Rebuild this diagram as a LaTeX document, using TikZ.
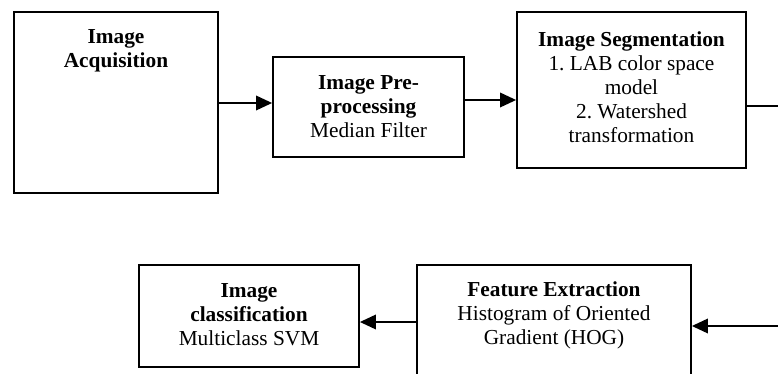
\documentclass[tikz,border=0pt]{standalone}
\usepackage{fontspec}
\setmainfont{Liberation Serif}
\usetikzlibrary{arrows.meta}
\tikzset{
  stagebox/.style={draw, line width=1.4pt, inner sep=0pt, fill=white},
  stagetext/.style={align=center, inner sep=0pt, font=\fontsize{16}{18}\selectfont\frenchspacing},
  flow/.style={line width=1pt, -{Triangle[length=12pt, width=11pt]}},
  plain/.style={line width=1pt},
}
\begin{document}
\begin{tikzpicture}[x=0.75pt, y=-0.75pt]
  \useasboundingbox (0,0) rectangle (778,374);
  \clip (0,0) rectangle (778,374);

  % stage boxes
  \node[stagebox, minimum width=204*0.75pt, minimum height=181*0.75pt] (acq) at (116,102.5) {};
  \node[stagebox, minimum width=191*0.75pt, minimum height=100*0.75pt] (pre) at (368.5,107) {};
  \node[stagebox, minimum width=229*0.75pt, minimum height=156*0.75pt] (seg) at (631.5,90) {};
  \node[stagebox, minimum width=274*0.75pt, minimum height=150*0.75pt] (feat) at (554,340) {};
  \node[stagebox, minimum width=220*0.75pt, minimum height=102*0.75pt] (cls) at (249,316) {};

  % stage labels
  \node[stagetext] (acqt) at (116,51) {\textbf{Image}\\\textbf{Acquisition}};
  \node[stagetext] (pret) at (368.5,107) {\textbf{Image Pre-}\\\textbf{processing}\\Median Filter};
  \node[stagetext] (segt) at (631.5,87) {\textbf{Image Segmentation}\\1. LAB color space\\model\\2. Watershed\\transformation};
  \node[stagetext] (featt) at (554,315) {\textbf{Feature Extraction}\\Histogram of Oriented\\Gradient (HOG)};
  \node[stagetext] (clst) at (249,315) {\textbf{Image}\\\textbf{classification}\\Multiclass SVM};

  % loose ends running off the right margin
  \coordinate (out1) at (778,106);
  \coordinate (in2) at (778,326);

  % connectors
  \draw[flow] (acq.east |- 0,103) -- (pre.west |- 0,103);
  \draw[flow] ([xshift=-1.5pt]pre.east |- 0,100) -- (seg.west |- 0,100);
  \draw[plain] (seg.east |- out1) -- (out1);
  \draw[flow] (in2) -- (feat.east |- in2);
  \draw[flow] (feat.west |- 0,322) -- (cls.east |- 0,322);
\end{tikzpicture}
\end{document}
